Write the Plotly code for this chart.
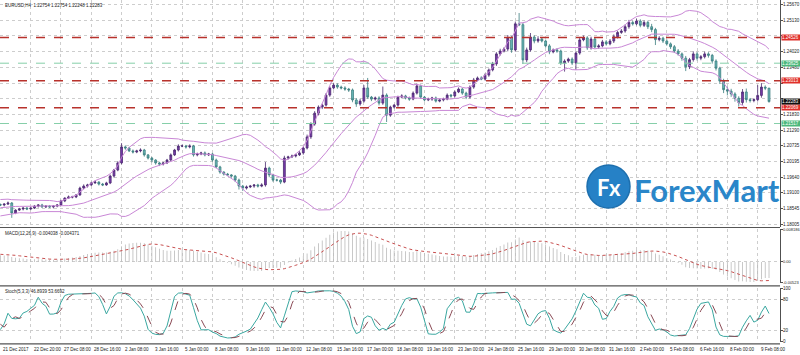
import numpy as np
import pandas as pd
import plotly.graph_objects as go

# ---------------- data ----------------
# closes of bars just before the first visible bar (only used to warm up the indicators)
warmup_close = [1.1795, 1.1785, 1.1780, 1.1772, 1.1760, 1.1755, 1.1750, 1.1746, 1.1752, 1.1758,
                1.1765, 1.1772, 1.1780, 1.1790, 1.1782, 1.1786, 1.1792, 1.1800, 1.1810, 1.1822,
                1.1832, 1.1840, 1.1835, 1.1828, 1.1838, 1.1850, 1.1860, 1.1866, 1.1856, 1.1850,
                1.1845, 1.1850, 1.1860, 1.1870, 1.1876, 1.1880, 1.1872, 1.1866, 1.1870, 1.1868]

# H4 closes, 21 Dec 2017 -> 9 Feb 2018
close = [
    1.1867, 1.1870, 1.1874, 1.1839, 1.1849, 1.1853, 1.1856, 1.1853,
    1.1856, 1.1863, 1.1867, 1.1860, 1.1863, 1.1860, 1.1863, 1.1867,
    1.1881, 1.1891, 1.1895, 1.1895, 1.1902, 1.1926, 1.1933, 1.1937,
    1.1944, 1.1947, 1.1940, 1.1937, 1.1944, 1.1968, 1.1989, 1.2014,
    1.2070, 1.2066, 1.2056, 1.2052, 1.2056, 1.2059, 1.2042, 1.2031,
    1.2024, 1.2014, 1.2010, 1.2014, 1.2024, 1.2042, 1.2059, 1.2073,
    1.2073, 1.2070, 1.2073, 1.2042, 1.2045, 1.2049, 1.2042, 1.2045,
    1.2024, 1.2000, 1.1982, 1.1975, 1.1972, 1.1968, 1.1954, 1.1933,
    1.1926, 1.1930, 1.1933, 1.1937, 1.1933, 1.1937, 1.1996, 1.1972,
    1.1954, 1.1954, 1.1947, 1.2031, 1.2035, 1.2038, 1.2042, 1.2049,
    1.2066, 1.2105, 1.2150, 1.2188, 1.2209, 1.2216, 1.2251, 1.2276,
    1.2286, 1.2279, 1.2276, 1.2272, 1.2269, 1.2234, 1.2220, 1.2230,
    1.2276, 1.2244, 1.2237, 1.2241, 1.2223, 1.2251, 1.2181, 1.2209,
    1.2216, 1.2244, 1.2248, 1.2241, 1.2237, 1.2258, 1.2283, 1.2244,
    1.2234, 1.2237, 1.2241, 1.2230, 1.2234, 1.2237, 1.2251, 1.2248,
    1.2262, 1.2272, 1.2258, 1.2244, 1.2279, 1.2304, 1.2311, 1.2307,
    1.2321, 1.2339, 1.2360, 1.2395, 1.2405, 1.2412, 1.2451, 1.2409,
    1.2500, 1.2497, 1.2374, 1.2409, 1.2454, 1.2440, 1.2447, 1.2440,
    1.2423, 1.2402, 1.2409, 1.2405, 1.2363, 1.2370, 1.2377, 1.2363,
    1.2398, 1.2444, 1.2451, 1.2416, 1.2447, 1.2419, 1.2423, 1.2437,
    1.2430, 1.2440, 1.2455, 1.2470, 1.2475, 1.2490, 1.2505, 1.2500,
    1.2510, 1.2495, 1.2505, 1.2490, 1.2480, 1.2445, 1.2450, 1.2440,
    1.2430, 1.2420, 1.2405, 1.2395, 1.2380, 1.2350, 1.2375, 1.2395,
    1.2380, 1.2385, 1.2395, 1.2390, 1.2370, 1.2345, 1.2300, 1.2270,
    1.2265, 1.2255, 1.2240, 1.2225, 1.2262, 1.2235, 1.2232, 1.2235,
    1.2250, 1.2279, 1.22754, 1.22283]

# upper / lower wick lengths in pips
wick_up = [
    4, 3, 5, 3, 3, 4, 3, 4,   3, 4, 3, 4, 3, 4, 3, 3,   4, 3, 5, 4, 3, 5, 6, 4,
    4, 5, 3, 4, 4, 5, 4, 6,   13, 5, 4, 5, 4, 6, 4, 3,  4, 3, 4, 3, 4, 5, 4, 6,
    5, 4, 6, 4, 5, 4, 5, 4,   4, 5, 4, 3, 4, 3, 4, 5,   4, 5, 4, 3, 4, 6, 21, 5,
    4, 5, 4, 8, 4, 5, 4, 6,   5, 8, 6, 7, 6, 5, 7, 6,   8, 6, 5, 6, 4, 5, 6, 8,
    10, 35, 4, 5, 6, 30, 6, 5, 4, 5, 6, 4, 5, 6, 8, 5,  4, 5, 4, 5, 4, 5, 6, 4,
    5, 6, 4, 5, 6, 7, 5, 6,   6, 5, 7, 6, 8, 6, 10, 7,  8, 38, 6, 8, 14, 6, 10, 5,
    5, 6, 5, 6, 5, 6, 5, 6,   6, 7, 8, 6, 8, 5, 6, 7,   6, 7, 8, 6, 7, 8, 9, 6,
    8, 6, 7, 6, 10, 6, 7, 5,  6, 5, 6, 7, 5, 8, 6, 9,   7, 6, 8, 6, 5, 6, 5, 8,
    10, 8, 6, 7, 10, 12, 6, 5, 36, 14, 6, 0]
wick_dn = [
    4, 5, 3, 17, 4, 3, 5, 4,  4, 3, 5, 3, 4, 3, 5, 4,   3, 4, 3, 5, 4, 3, 4, 5,
    4, 3, 5, 4, 3, 4, 5, 4,   5, 6, 4, 5, 4, 5, 6, 5,   8, 6, 7, 5, 4, 5, 4, 5,
    4, 6, 5, 6, 5, 4, 5, 4,   6, 5, 6, 5, 4, 6, 7, 12,  10, 5, 4, 6, 5, 4, 6, 8,
    6, 5, 7, 4, 5, 4, 5, 4,   6, 5, 7, 6, 8, 7, 5, 6,   5, 6, 5, 6, 7, 8, 10, 6,
    5, 6, 7, 5, 8, 6, 24, 6,  5, 6, 4, 5, 6, 4, 5, 6,   5, 4, 6, 5, 4, 5, 4, 6,
    5, 4, 6, 7, 5, 6, 5, 4,   5, 6, 5, 7, 6, 5, 8, 10,  6, 5, 14, 8, 6, 8, 6, 5,
    6, 8, 5, 6, 7, 30, 6, 7,  24, 6, 5, 7, 6, 5, 6, 5,  6, 5, 7, 6, 5, 6, 7, 6,
    5, 7, 6, 8, 9, 19, 6, 7,  6, 8, 7, 6, 9, 15, 8, 7,  8, 7, 6, 8, 9, 8, 10, 12,
    15, 10, 12, 14, 8, 10, 7, 6, 6, 8, 7, 3.5]

time_labels = ["21 Dec 2017", "22 Dec 20:00", "27 Dec 08:00", "28 Dec 16:00", "2 Jan 08:00",
               "3 Jan 16:00", "5 Jan 00:00", "8 Jan 08:00", "9 Jan 16:00", "11 Jan 00:00",
               "12 Jan 08:00", "15 Jan 16:00", "17 Jan 00:00", "18 Jan 08:00", "19 Jan 16:00",
               "23 Jan 00:00", "24 Jan 08:00", "25 Jan 16:00", "29 Jan 00:00", "30 Jan 08:00",
               "31 Jan 16:00", "2 Feb 00:00", "5 Feb 08:00", "6 Feb 16:00", "8 Feb 00:00",
               "9 Feb 08:00"]
label_bars = [0, 8, 16, 24, 32, 40, 48, 56, 64, 72, 80, 88, 96, 104, 112, 120, 128,
              136, 144, 152, 160, 168, 176, 184, 192, 200]

price_ticks = [1.25670, 1.25130, 1.24590, 1.24020, 1.23480, 1.22925, 1.22385, 1.21830,
               1.21290, 1.20735, 1.20195, 1.19640, 1.19100, 1.18545, 1.18005]
price_ticktext = ["1.25670", "1.25130", "", "1.24020", "1.23480", "", "", "1.21830",
                  "1.21290", "1.20735", "1.20195", "1.19640", "1.19100", "1.18545", "1.18005"]

red_levels = [1.24526, 1.23013, 1.22069]
green_levels = [1.23625, 1.21517]
last_price = 1.22283

macd_ticks = [0.008186, 0.0, -0.00523]
macd_ticktext = ["0.008186", "0.00", "-0.00523"]
stoch_ticks = [100, 80, 20, 0]
stoch_ticktext = ["100", "80", "20", "0"]

title_main = "EURUSD,H4  1.22754 1.22754 1.22248 1.22283"
title_macd = "MACD(12,26,9) -0.004038 -0.004371"
title_stoch = "Stoch(5,3,3) 46.8939 53.6692"

# ---------------- build OHLC + indicators ----------------
n_w = len(warmup_close)
c = np.array(warmup_close + close, dtype=float)
o = np.r_[c[0], c[:-1]]
up = np.r_[np.zeros(n_w), np.array(wick_up, dtype=float)] * 1e-4
dn = np.r_[np.zeros(n_w), np.array(wick_dn, dtype=float)] * 1e-4
h = np.maximum(o, c) + up
l = np.minimum(o, c) - dn
idx = np.arange(len(c)) - n_w

cs = pd.Series(c)
mid = cs.rolling(20).mean()
sd = cs.rolling(20).std(ddof=0)
bb_up = mid + 2 * sd
bb_dn = mid - 2 * sd

macd = cs.ewm(span=12, adjust=False).mean() - cs.ewm(span=26, adjust=False).mean()
signal = macd.rolling(9).mean()

hs, ls = pd.Series(h), pd.Series(l)
ll5 = ls.rolling(5).min()
hh5 = hs.rolling(5).max()
k = 100 * (cs - ll5).rolling(3).sum() / (hh5 - ll5).rolling(3).sum()
d = k.rolling(3).mean()

v = idx >= 0
xv = idx[v]

# ---------------- figure ----------------
FONT = "Liberation Sans"
GRID = "#cdcdcd"
fig = go.Figure()

fig.add_trace(go.Candlestick(
    x=xv, open=o[v], high=h[v], low=l[v], close=c[v],
    increasing=dict(line=dict(color="#4a2a6e", width=0.8), fillcolor="#7a3aae"),
    decreasing=dict(line=dict(color="#3a7c7e", width=0.8), fillcolor="#6cbaba"),
    whiskerwidth=0, xaxis="x", yaxis="y", hoverinfo="skip"))
for band in (bb_up, mid, bb_dn):
    fig.add_trace(go.Scatter(x=xv, y=band.values[v], mode="lines",
                             line=dict(color="#c987d6", width=1), xaxis="x", yaxis="y",
                             hoverinfo="skip"))

fig.add_trace(go.Bar(x=xv, y=macd.values[v], width=0.22,
                     marker=dict(color="#bdbdbd", line=dict(width=0)),
                     xaxis="x", yaxis="y2", hoverinfo="skip"))
fig.add_trace(go.Scatter(x=xv, y=signal.values[v], mode="lines",
                         line=dict(color="#c85050", width=1, dash="dot"), xaxis="x", yaxis="y2",
                         hoverinfo="skip"))

fig.add_trace(go.Scatter(x=xv, y=k.values[v], mode="lines",
                         line=dict(color="#3aa7a0", width=1), xaxis="x", yaxis="y3", hoverinfo="skip"))
fig.add_trace(go.Scatter(x=xv, y=d.values[v], mode="lines",
                         line=dict(color="#8a4a55", width=1, dash="dash"), xaxis="x", yaxis="y3",
                         hoverinfo="skip"))

H_PLOT = 344.0
def py(px):
    return 1 - px / H_PLOT

yax_common = dict(side="right", anchor="x", showgrid=True, griddash="dot", gridcolor=GRID,
                  gridwidth=1, zeroline=False, showline=True, linecolor="#505050", linewidth=1,
                  ticks="outside", ticklen=2, tickcolor="#505050", showticklabels=False,
                  fixedrange=True)

fig.update_layout(
    width=800, height=355, margin=dict(l=0, r=20, t=0, b=11, pad=0),
    paper_bgcolor="white", plot_bgcolor="white", showlegend=False, hovermode=False,
    xaxis=dict(range=[-0.106, 205.9], anchor="y3", tickvals=label_bars, showticklabels=False,
               showgrid=True, griddash="dot", gridcolor=GRID, gridwidth=1, zeroline=False,
               rangeslider=dict(visible=False), showline=False, ticks="", fixedrange=True),
    yaxis=dict(domain=[py(227), 1.0], range=[1.17900, 1.25834], tickvals=price_ticks, **yax_common),
    yaxis2=dict(domain=[py(283), py(229)], range=[-0.00523 * 1.01, 0.008186 * 1.005],
                tickvals=macd_ticks, **yax_common),
    yaxis3=dict(domain=[py(341.7), py(288.3)], range=[-0.8, 100.8], tickvals=stoch_ticks,
                **yax_common),
)

shapes = []
for lv in red_levels:
    shapes.append(dict(type="line", xref="paper", x0=0, x1=1, yref="y", y0=lv, y1=lv,
                       line=dict(color="#b8322c", width=1.5, dash="dash")))
for lv in green_levels:
    shapes.append(dict(type="line", xref="paper", x0=0, x1=1, yref="y", y0=lv, y1=lv,
                       line=dict(color="#86cfa9", width=1, dash="dash")))
# panel separators
for ypx in (227.5, 285.8, 343.8):
    shapes.append(dict(type="line", xref="paper", x0=0, x1=1, yref="paper", y0=py(ypx), y1=py(ypx),
                       line=dict(color="#555555", width=1.2)))
# logo circle
shapes.append(dict(type="circle", xref="paper", yref="paper",
                   x0=587 / 780, x1=630 / 780, y0=py(208), y1=py(165),
                   fillcolor="#2681c6", line=dict(color="#1d6fae", width=1.5), layer="above"))
fig.update_layout(shapes=shapes)

ann = []
small = dict(size=4.5, family=FONT, color="#1a1a1a")
def axis_label(text, yref, yval, size=4.5):
    return dict(text=text, xref="paper", yref=yref, x=1, y=yval, xanchor="left", xshift=1,
                yanchor="middle", showarrow=False,
                font=dict(size=size, family=FONT, color="#1a1a1a"))

for t, val in zip(price_ticktext, price_ticks):
    if t:
        ann.append(axis_label(t, "y", val))
for t, val in zip(macd_ticktext, macd_ticks):
    ann.append(axis_label(t, "y2", val, size=4.0))
for t, val in zip(stoch_ticktext, stoch_ticks):
    ann.append(axis_label(t, "y3", val))

ann.append(dict(text=title_main, xref="paper", yref="paper", x=0.004, y=py(5), xanchor="left",
                yanchor="middle", showarrow=False, font=small))
ann.append(dict(text=title_macd, xref="paper", yref="paper", x=0.004, y=py(233), xanchor="left",
                yanchor="middle", showarrow=False, font=small))
ann.append(dict(text=title_stoch, xref="paper", yref="paper", x=0.004, y=py(291), xanchor="left",
                yanchor="middle", showarrow=False, font=small))
for b, t in zip(label_bars, time_labels):
    ann.append(dict(text=t, xref="x", yref="paper", x=b, y=py(349.5), xanchor="left", xshift=1,
                    yanchor="middle", showarrow=False, font=small))

def tag(lv, bg):
    return dict(text=f"{lv:.5f}", xref="paper", yref="y", x=1, y=lv, xanchor="left", xshift=1,
                yanchor="middle", showarrow=False, bgcolor=bg, borderpad=0, width=19,
                align="left", font=dict(size=4.5, family=FONT, color="white"))
for lv in red_levels:
    ann.append(tag(lv, "#e0302b"))
for lv in green_levels:
    ann.append(tag(lv, "#4cb87c"))
ann.append(tag(last_price, "#111111"))

# logo text
ann.append(dict(text="<b>Fx</b>", xref="paper", yref="paper", x=608.5 / 780, y=py(187),
                xanchor="center", yanchor="middle", showarrow=False,
                font=dict(size=22, family="Lato", color="white")))
ann.append(dict(text="<b>ForexMart</b>", xref="paper", yref="paper", x=632 / 780, y=py(190),
                xanchor="left", yanchor="middle", showarrow=False,
                font=dict(size=31, family="Lato", color="#2a86c9")))
fig.update_layout(annotations=ann)

fig.write_html("out.html", config={"displayModeBar": False, "staticPlot": True})

# remove the browser's default page margin so the figure sits at the window's corner
with open("out.html", "r", encoding="utf-8") as f:
    html = f.read()
html = html.replace("<head>", "<head><style>html,body{margin:0;padding:0;overflow:hidden;}</style>", 1)
with open("out.html", "w", encoding="utf-8") as f:
    f.write(html)
